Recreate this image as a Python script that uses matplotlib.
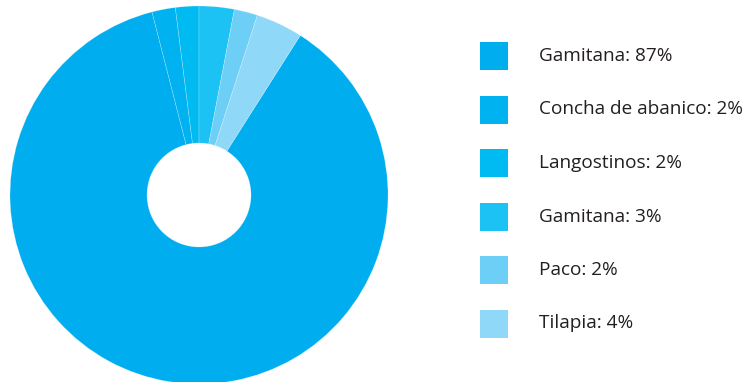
import matplotlib
matplotlib.use("Agg")
import matplotlib.pyplot as plt
from matplotlib.patches import Rectangle

# Species share data
labels = ["Gamitana", "Concha de abanico", "Langostinos", "Gamitana", "Paco", "Tilapia"]
shares = [87, 2, 2, 3, 2, 4]
colors = ["#00aeef", "#00b2f0", "#00bbf2", "#1bc2f3", "#6dcff6", "#8fd8f8"]

W, H = 747, 382
fig = plt.figure(figsize=(W / 100, H / 100), dpi=100)

# Donut axes, placed in pixel terms
cx, cy, r = 199, 195, 189
ax = fig.add_axes([(cx - r) / W, (H - cy - r) / H, 2 * r / W, 2 * r / H])
ax.pie(shares, colors=colors, startangle=57.6, counterclock=False,
       radius=1.0, wedgeprops=dict(width=1 - 52 / 189, edgecolor=(1, 1, 1, 0.35), linewidth=0.4))
ax.set_xlim(-1, 1)
ax.set_ylim(-1, 1)
ax.set_aspect("equal")
ax.axis("off")

# Legend drawn as square swatches with labels
lx0, lx1 = 460, W
lax = fig.add_axes([lx0 / W, 0, (lx1 - lx0) / W, 1])
lax.set_xlim(lx0, lx1)
lax.set_ylim(H, 0)
lax.axis("off")
row0, step, sq = 56, 53.5, 28
for i, (lab, val, col) in enumerate(zip(labels, shares, colors)):
    yc = row0 + i * step
    lax.add_patch(Rectangle((480, yc - sq / 2), sq, sq, facecolor=col, edgecolor="none"))
    lax.text(539, yc, f"{lab}: {val}%", va="center", ha="left",
             fontsize=13.7, color="#231f20", family="Open Sans")

fig.savefig("out.png", dpi=100)
